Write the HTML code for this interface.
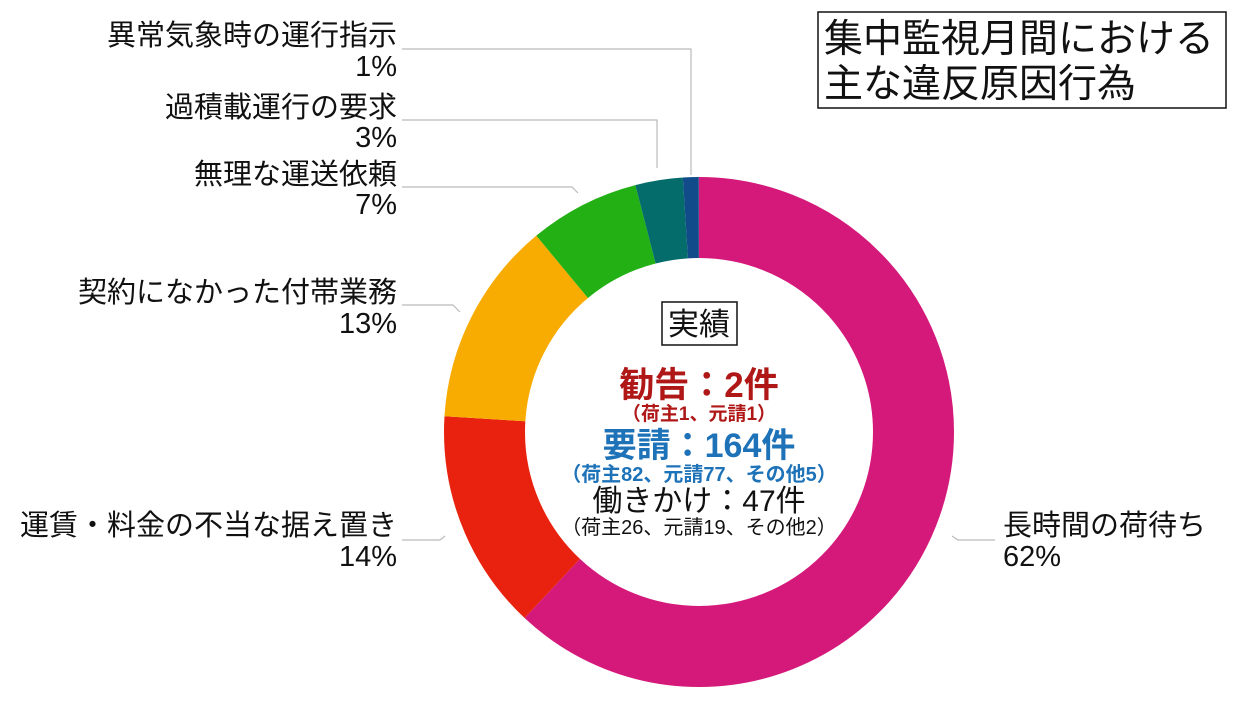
<!DOCTYPE html>
<html><head><meta charset="utf-8"><style>
body{margin:0;background:#fff;}
svg text{font-family:"Liberation Sans","Noto Sans CJK JP",sans-serif;}
</style></head><body>
<svg width="1240" height="702" viewBox="0 0 1240 702" xmlns="http://www.w3.org/2000/svg">
<rect width="1240" height="702" fill="#fff"/>
<g transform="rotate(-90 699 432)" fill="none" stroke-width="81">
<circle cx="699" cy="432" r="214.5" pathLength="100" stroke="#d4197a" stroke-dasharray="62 38" stroke-dashoffset="0"/>
<circle cx="699" cy="432" r="214.5" pathLength="100" stroke="#e8220e" stroke-dasharray="14 86" stroke-dashoffset="-62"/>
<circle cx="699" cy="432" r="214.5" pathLength="100" stroke="#f8ab00" stroke-dasharray="13 87" stroke-dashoffset="-76"/>
<circle cx="699" cy="432" r="214.5" pathLength="100" stroke="#22b014" stroke-dasharray="7 93" stroke-dashoffset="-89"/>
<circle cx="699" cy="432" r="214.5" pathLength="100" stroke="#056c6c" stroke-dasharray="3 97" stroke-dashoffset="-96"/>
<circle cx="699" cy="432" r="214.5" pathLength="100" stroke="#124b8a" stroke-dasharray="1 99" stroke-dashoffset="-99"/>
</g>
<g fill="none" stroke="#bbb" stroke-width="1.2">
<polyline points="402,49 691,49 691,175"/>
<polyline points="402,120 657,120 657,168"/>
<polyline points="402,187 572,187 578,193"/>
<polyline points="402,305 453,305 460,312"/>
<polyline points="402,540 440,540 445,536"/>
<polyline points="952,536 958,540 995,540"/>
</g>
<g font-size="29" fill="#111" text-anchor="end">
<text x="397" y="45">異常気象時の運行指示</text><text x="397" y="76">1%</text>
<text x="397" y="117">過積載運行の要求</text><text x="397" y="147">3%</text>
<text x="397" y="184">無理な運送依頼</text><text x="397" y="214">7%</text>
<text x="397" y="302">契約になかった付帯業務</text><text x="397" y="333">13%</text>
<text x="397" y="535">運賃・料金の不当な据え置き</text><text x="397" y="566">14%</text>
</g>
<text x="1003" y="535" font-size="29" fill="#111">長時間の荷待ち</text>
<text x="1003" y="566" font-size="29" fill="#111">62%</text>
<rect x="818" y="12" width="408" height="96" fill="#fff" stroke="#111" stroke-width="1.5"/>
<text x="824" y="52" font-size="39" fill="#111">集中監視月間における</text>
<text x="824" y="97" font-size="39" fill="#111">主な違反原因行為</text>
<rect x="662" y="302" width="75" height="43" fill="#fff" stroke="#111" stroke-width="1.5"/>
<g text-anchor="middle">
<text x="699" y="335" font-size="31" fill="#111">実績</text>
<text x="699" y="397" font-size="35" font-weight="bold" fill="#b01818">勧告：2件</text>
<text x="699" y="420" font-size="19" font-weight="bold" fill="#b01818">（荷主1、元請1）</text>
<text x="699" y="457" font-size="34" font-weight="bold" fill="#1e72b8">要請：164件</text>
<text x="699" y="481" font-size="20" font-weight="bold" fill="#1e72b8">（荷主82、元請77、その他5）</text>
<text x="699" y="511" font-size="30" fill="#111">働きかけ：47件</text>
<text x="699" y="534" font-size="20" fill="#111">（荷主26、元請19、その他2）</text>
</g>
</svg>
</body></html>
